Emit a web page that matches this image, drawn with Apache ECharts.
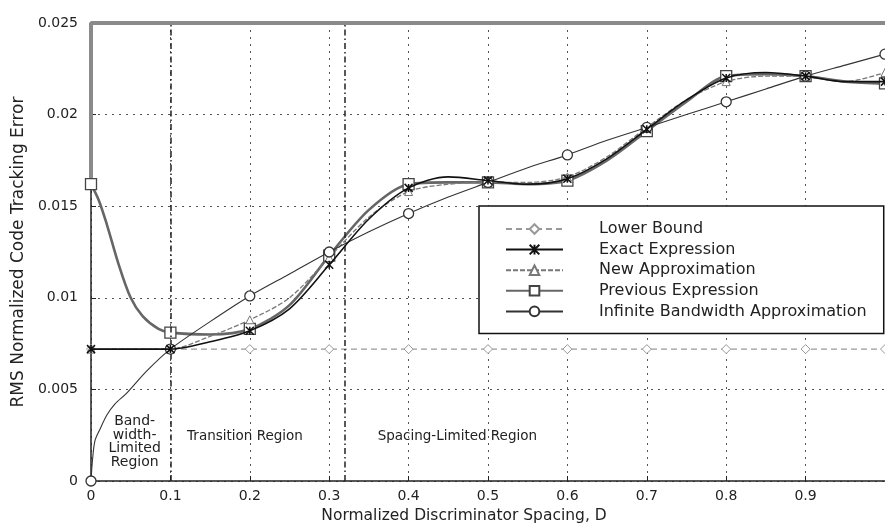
<!DOCTYPE html>
<html lang="en">
<head>
    <meta charset="UTF-8">
    <title>RMS Code Tracking Error</title>
    <script type="text/javascript" src="https://cdn.jsdelivr.net/npm/echarts@6/dist/echarts.min.js"></script>
</head>
<style>
    body {
        margin: 0;
        background-color: #fff;
    }
    #chart {
        width: 885px;
        height: 529px;
    }
</style>
<body>
<div id="chart"></div>
</body>
<script>
    // discriminator spacing D and error values
    var lowerX = [0, 0.1, 0.2, 0.3, 0.4, 0.5, 0.6, 0.7, 0.8, 0.9, 1.0]
    var lowerY = [0.0072, 0.0072, 0.0072, 0.0072, 0.0072, 0.0072, 0.0072, 0.0072, 0.0072, 0.0072, 0.0072]

    var exactX = [0, 0.05, 0.1, 0.15, 0.2, 0.25, 0.3, 0.35, 0.4, 0.45, 0.5, 0.55, 0.6, 0.65, 0.7, 0.75, 0.8, 0.85, 0.9, 0.95, 1.0]
    var exactY = [0.0072, 0.0072, 0.0072, 0.0076, 0.0082, 0.0094, 0.0118, 0.0143, 0.0160, 0.0166, 0.0164, 0.0162, 0.0165, 0.0176, 0.0192, 0.0208, 0.0220, 0.0223, 0.0221, 0.0218, 0.0218]

    var newX = exactX
    var newY = [0.0072, 0.0072, 0.0072, 0.0079, 0.0088, 0.0100, 0.0122, 0.0144, 0.0158, 0.0162, 0.0163, 0.0163, 0.0166, 0.0177, 0.0193, 0.0208, 0.0218, 0.0221, 0.0221, 0.0218, 0.0223]

    var prevX = [0, 0.01, 0.02, 0.035, 0.05, 0.065, 0.085, 0.1, 0.15, 0.2, 0.25, 0.3, 0.35, 0.4, 0.45, 0.5, 0.55, 0.6, 0.65, 0.7, 0.75, 0.8, 0.85, 0.9, 0.95, 1.0]
    var prevY = [0.0162, 0.0153, 0.0140, 0.0118, 0.0100, 0.0090, 0.0083, 0.0081, 0.0080, 0.0083, 0.0096, 0.0123, 0.0148, 0.0162, 0.0163, 0.0163, 0.0162, 0.0164, 0.0175, 0.0191, 0.0207, 0.0221, 0.0222, 0.0221, 0.0218, 0.0217]

    var infX = [0, 0.002, 0.005, 0.011, 0.02, 0.03, 0.045, 0.07, 0.1, 0.15, 0.2, 0.25, 0.3, 0.35, 0.4, 0.45, 0.5, 0.55, 0.6, 0.65, 0.7, 0.75, 0.8, 0.85, 0.9, 0.95, 1.0]
    var infY = [0, 0.0012, 0.0022, 0.0028, 0.0036, 0.0042, 0.0048, 0.0060, 0.0072, 0.0087, 0.0101, 0.0113, 0.0125, 0.0136, 0.0146, 0.0155, 0.0163, 0.0171, 0.0178, 0.0186, 0.0193, 0.0200, 0.0207, 0.0214, 0.0221, 0.0227, 0.0233]

    var seriesNames = ['Lower Bound', 'Exact Expression', 'New Approximation', 'Previous Expression', 'Infinite Bandwidth Approximation']

    var regionEdges = [0.1, 0.315]
    var frameLine = [[0, 0.0162], [0, 0.025], [1, 0.025]]

    var notes = [
        {text: 'Band-\nwidth-\nLimited\nRegion', d: 0.055, e: 0.0036, align: 'center', size: 14},
        {text: 'Transition Region', d: 0.121, e: 0.00245, align: 'left', size: 13.5},
        {text: 'Spacing-Limited Region', d: 0.361, e: 0.00245, align: 'left', size: 13.5}
    ]

    var FONT = 'DejaVu Sans'

    function pairs(xs, ys) {
        var out = []
        for (var i = 0; i < xs.length; i++) out.push([xs[i], ys[i]])
        return out
    }

    // markers only on the 0.1 grid, like the original plot
    function markSize(size) {
        return function (val) {
            var k = val[0] * 10
            return Math.abs(k - Math.round(k)) < 1e-6 ? size : 0
        }
    }

    var crossPath = 'path://M0,0L10,10M10,0L0,10M5,0L5,10'

    var myChart = echarts.init(document.getElementById('chart'));

    var option = {
        backgroundColor: '#fff',
        animation: false,
        grid: {
            left: 91,
            top: 23,
            right: -6,
            bottom: 46
        },
        legend: {
            orient: 'vertical',
            left: 479,
            top: 206,
            padding: [15, 17, 14, 26],
            backgroundColor: '#fff',
            borderColor: '#111',
            borderWidth: 1.5,
            itemWidth: 57,
            itemHeight: 12,
            itemGap: 4.6,
            textStyle: {
                fontFamily: FONT,
                fontSize: 16,
                lineHeight: 16,
                color: '#222',
                padding: [0, 0, 0, 31]
            },
            data: seriesNames
        },
        xAxis: {
            type: 'value',
            min: 0,
            max: 1,
            interval: 0.1,
            name: 'Normalized Discriminator Spacing, D',
            nameLocation: 'middle',
            nameGap: 27,
            nameTextStyle: {fontFamily: FONT, fontSize: 15.5, color: '#222', padding: [0, 48, 0, 0]},
            axisLine: {lineStyle: {color: '#222', width: 1.5}},
            axisTick: {inside: true, length: 5, lineStyle: {color: '#222'}},
            axisLabel: {
                fontFamily: FONT, fontSize: 14, color: '#222', margin: 8,
                showMaxLabel: false,
                formatter: function (v) { return v === 0 ? '0' : String(parseFloat(v.toFixed(1))) }
            },
            splitLine: {show: true, lineStyle: {color: '#555', width: 1, type: [2, 5]}}
        },
        yAxis: {
            type: 'value',
            min: 0,
            max: 0.025,
            interval: 0.005,
            name: 'RMS Normalized Code Tracking Error',
            nameLocation: 'middle',
            nameGap: 64,
            nameTextStyle: {fontFamily: FONT, fontSize: 17, color: '#222'},
            axisLine: {show: true, lineStyle: {color: '#222', width: 1.5}},
            axisTick: {show: true, inside: true, length: 5, lineStyle: {color: '#222'}},
            axisLabel: {
                fontFamily: FONT, fontSize: 14, color: '#222', margin: 13,
                formatter: function (v) { return v === 0 ? '0' : String(parseFloat(v.toFixed(3))) }
            },
            splitLine: {show: true, lineStyle: {color: '#555', width: 1, type: [2, 5]}}
        },
        series: [
            {
                name: 'Lower Bound',
                type: 'line',
                data: pairs(lowerX, lowerY),
                symbol: 'diamond',
                symbolSize: 9,
                showAllSymbol: true,
                itemStyle: {color: '#fff', borderColor: '#999', borderWidth: 1},
                lineStyle: {color: '#999', width: 1.2, type: [6, 4]},
                markLine: {
                    silent: true,
                    symbol: 'none',
                    label: {show: false},
                    lineStyle: {color: '#222', width: 1.5, type: [6, 3, 1.5, 3]},
                    data: regionEdges.map(function (d) { return {xAxis: d} })
                },
                z: 3
            },
            {
                name: 'Exact Expression',
                type: 'line',
                data: pairs(exactX, exactY),
                smooth: 0.3,
                symbol: crossPath,
                symbolSize: markSize(8),
                showAllSymbol: true,
                itemStyle: {color: 'none', borderColor: '#111', borderWidth: 1.5},
                lineStyle: {color: '#111', width: 1.6},
                z: 6
            },
            {
                name: 'New Approximation',
                type: 'line',
                data: pairs(newX, newY),
                smooth: 0.3,
                symbol: 'triangle',
                symbolSize: markSize(8),
                showAllSymbol: true,
                itemStyle: {color: '#fff', borderColor: '#777', borderWidth: 1},
                lineStyle: {color: '#777', width: 1.3, type: [5, 2]},
                z: 5
            },
            {
                name: 'Previous Expression',
                type: 'line',
                data: pairs(prevX, prevY),
                smooth: 0.3,
                symbol: 'rect',
                symbolSize: markSize(11),
                showAllSymbol: true,
                itemStyle: {color: '#fff', borderColor: '#444', borderWidth: 1.3},
                lineStyle: {color: '#666', width: 2.6},
                z: 4
            },
            {
                name: 'Infinite Bandwidth Approximation',
                type: 'line',
                data: pairs(infX, infY),
                smooth: 0.3,
                symbol: 'circle',
                symbolSize: markSize(10),
                showAllSymbol: true,
                itemStyle: {color: '#fff', borderColor: '#333', borderWidth: 1.3},
                lineStyle: {color: '#333', width: 1.1},
                z: 5
            },
            {
                name: 'frame',
                type: 'line',
                silent: true,
                data: frameLine,
                symbol: 'none',
                lineStyle: {color: '#8a8a8a', width: 4},
                z: 2
            }
        ]
    };
    myChart.setOption(option);

    // region labels placed in data space
    var texts = notes.map(function (n) {
        var p = myChart.convertToPixel({gridIndex: 0}, [n.d, n.e])
        return {
            type: 'text',
            x: p[0],
            y: p[1],
            z: 10,
            style: {
                text: n.text,
                fill: '#222',
                font: n.size + 'px "' + FONT + '"',
                lineHeight: 13.5,
                align: n.align,
                verticalAlign: n.align === 'center' ? 'top' : 'middle'
            }
        }
    })
    myChart.setOption({graphic: texts});
</script>
</html>
